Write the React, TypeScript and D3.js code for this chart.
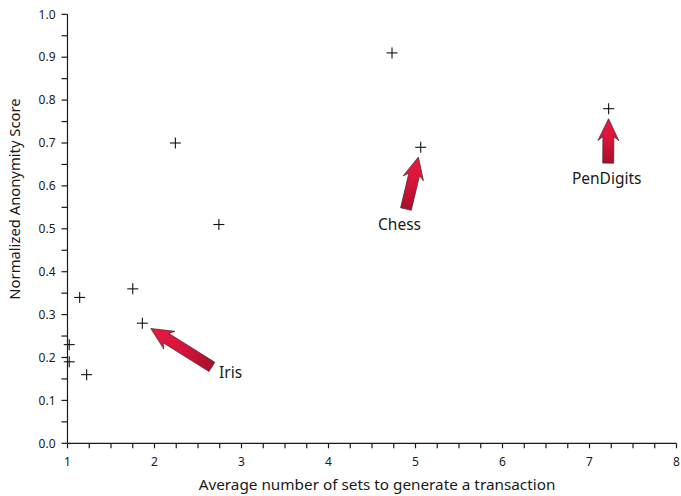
import React from "react";
import * as d3 from "d3";

// Scatter of anonymity score vs. average sets per transaction
const xValues = [4.73, 2.24, 2.74, 5.06, 7.22, 1.75, 1.86, 1.14, 1.02, 1.02, 1.22];
const yValues = [0.91, 0.70, 0.51, 0.69, 0.78, 0.36, 0.28, 0.34, 0.23, 0.19, 0.16];

const xTicks = [1, 2, 3, 4, 5, 6, 7, 8];
const yTicks = [0, 0.1, 0.2, 0.3, 0.4, 0.5, 0.6, 0.7, 0.8, 0.9, 1.0];

// Annotated datasets: which point they refer to and where the arrow's tail sits
const noteLabels = ["Iris", "Chess", "PenDigits"];
const notePoint = [6, 3, 4];
const noteTailX = [2.66, 4.89, 7.215];
const noteTailY = [0.178, 0.546, 0.653];

const W = 681;
const H = 496;
const FONT = "'Noto Sans', 'DejaVu Sans', sans-serif";

const x = d3.scaleLinear().domain([1, 8]).range([67.5, 676.5]);
const y = d3.scaleLinear().domain([0, 1]).range([443.3, 14.3]);

function arrowPath(tx: number, ty: number, bx: number, by: number) {
  // block arrow pointing from (bx,by) to (tx,ty)
  const dx = tx - bx;
  const dy = ty - by;
  const len = Math.hypot(dx, dy);
  const ux = dx / len;
  const uy = dy / len;
  const nx = -uy;
  const ny = ux;
  const headLen = 22;
  const headHalf = 10.5;
  const shaftHalf = 5.5;
  const notch = 4;
  const p = (a: number, s: number) => [bx + ux * a + nx * s, by + uy * a + ny * s];
  const pts = [
    p(0, -shaftHalf),
    p(len - headLen + notch, -shaftHalf),
    p(len - headLen, -headHalf),
    p(len, 0),
    p(len - headLen, headHalf),
    p(len - headLen + notch, shaftHalf),
    p(0, shaftHalf),
  ];
  return "M" + pts.map((q) => q[0].toFixed(2) + "," + q[1].toFixed(2)).join("L") + "Z";
}

export default function App() {
  const xMinor = d3.range(1, 8.001, 0.25);
  const yMinor = d3.range(0, 1.0001, 0.05);
  const notes = noteLabels.map((label, i) => {
    const pi = notePoint[i];
    const px = x(xValues[pi]);
    const py = y(yValues[pi]);
    const bx = x(noteTailX[i]);
    const by = y(noteTailY[i]);
    // tip stops just short of the marker
    const dx = px - bx;
    const dy = py - by;
    const l = Math.hypot(dx, dy);
    const tx = px - (dx / l) * 10;
    const ty = py - (dy / l) * 10;
    return { label, tx, ty, bx, by, i };
  });

  return (
    <svg width={W} height={H} style={{ position: "absolute", left: 0, top: 0 }} fontFamily={FONT}>
      <defs>
        {notes.map((n) => (
          <linearGradient
            key={n.label}
            id={"grad" + n.i}
            gradientUnits="userSpaceOnUse"
            x1={n.tx}
            y1={n.ty}
            x2={n.bx}
            y2={n.by}
          >
            <stop offset="0" stopColor="#e8193f" />
            <stop offset="0.5" stopColor="#d8143a" />
            <stop offset="1" stopColor="#a80f2c" />
          </linearGradient>
        ))}
      </defs>
      <rect width={W} height={H} fill="#fff" />

      {/* axes */}
      <g stroke="#1a1a1a" strokeWidth={1.2}>
        <line x1={x(1)} x2={x(1)} y1={y(1)} y2={y(0)} />
        <line x1={x(1)} x2={x(8)} y1={y(0)} y2={y(0)} />
        {yMinor.map((v) => (
          <line key={"ym" + v} x1={x(1) - 6} x2={x(1)} y1={y(v)} y2={y(v)} />
        ))}
        {xMinor.map((v) => (
          <line key={"xm" + v} x1={x(v)} x2={x(v)} y1={y(0)} y2={y(0) + 5} />
        ))}
      </g>
      <g fontSize={12} fill="#1a1a1a">
        {yTicks.map((v) => (
          <text key={"yt" + v} x={x(1) - 12} y={y(v) + 4.2} textAnchor="end">
            {d3.format(".1f")(v)}
          </text>
        ))}
        {xTicks.map((v) => (
          <text key={"xt" + v} x={x(v)} y={y(0) + 23} textAnchor="middle">
            {v}
          </text>
        ))}
      </g>
      <text x={377} y={490} textAnchor="middle" fontSize={15.3} fill="#1a1a1a">
        Average number of sets to generate a transaction
      </text>
      <text
        transform="translate(20,199) rotate(-90)"
        textAnchor="middle"
        fontSize={14.8}
        fill="#1a1a1a"
      >
        Normalized Anonymity Score
      </text>

      {/* data markers */}
      <g stroke="#111" strokeWidth={1.1}>
        {xValues.map((xv, i) => (
          <g key={"pt" + i} transform={`translate(${x(xv)},${y(yValues[i])})`}>
            <line x1={-5.5} x2={5.5} y1={0} y2={0} />
            <line x1={0} x2={0} y1={-5.5} y2={5.5} />
          </g>
        ))}
      </g>

      {/* annotations */}
      {notes.map((n) => (
        <path
          key={"ar" + n.i}
          d={arrowPath(n.tx, n.ty, n.bx, n.by)}
          fill={`url(#grad${n.i})`}
          stroke="#3a2a2a"
          strokeWidth={0.7}
          strokeLinejoin="miter"
        />
      ))}
      <g fontSize={15.5} fill="#1a1a1a">
        <text x={219} y={378}>Iris</text>
        <text x={399.5} y={230} textAnchor="middle">Chess</text>
        <text x={606.7} y={184} textAnchor="middle">PenDigits</text>
      </g>
    </svg>
  );
}
